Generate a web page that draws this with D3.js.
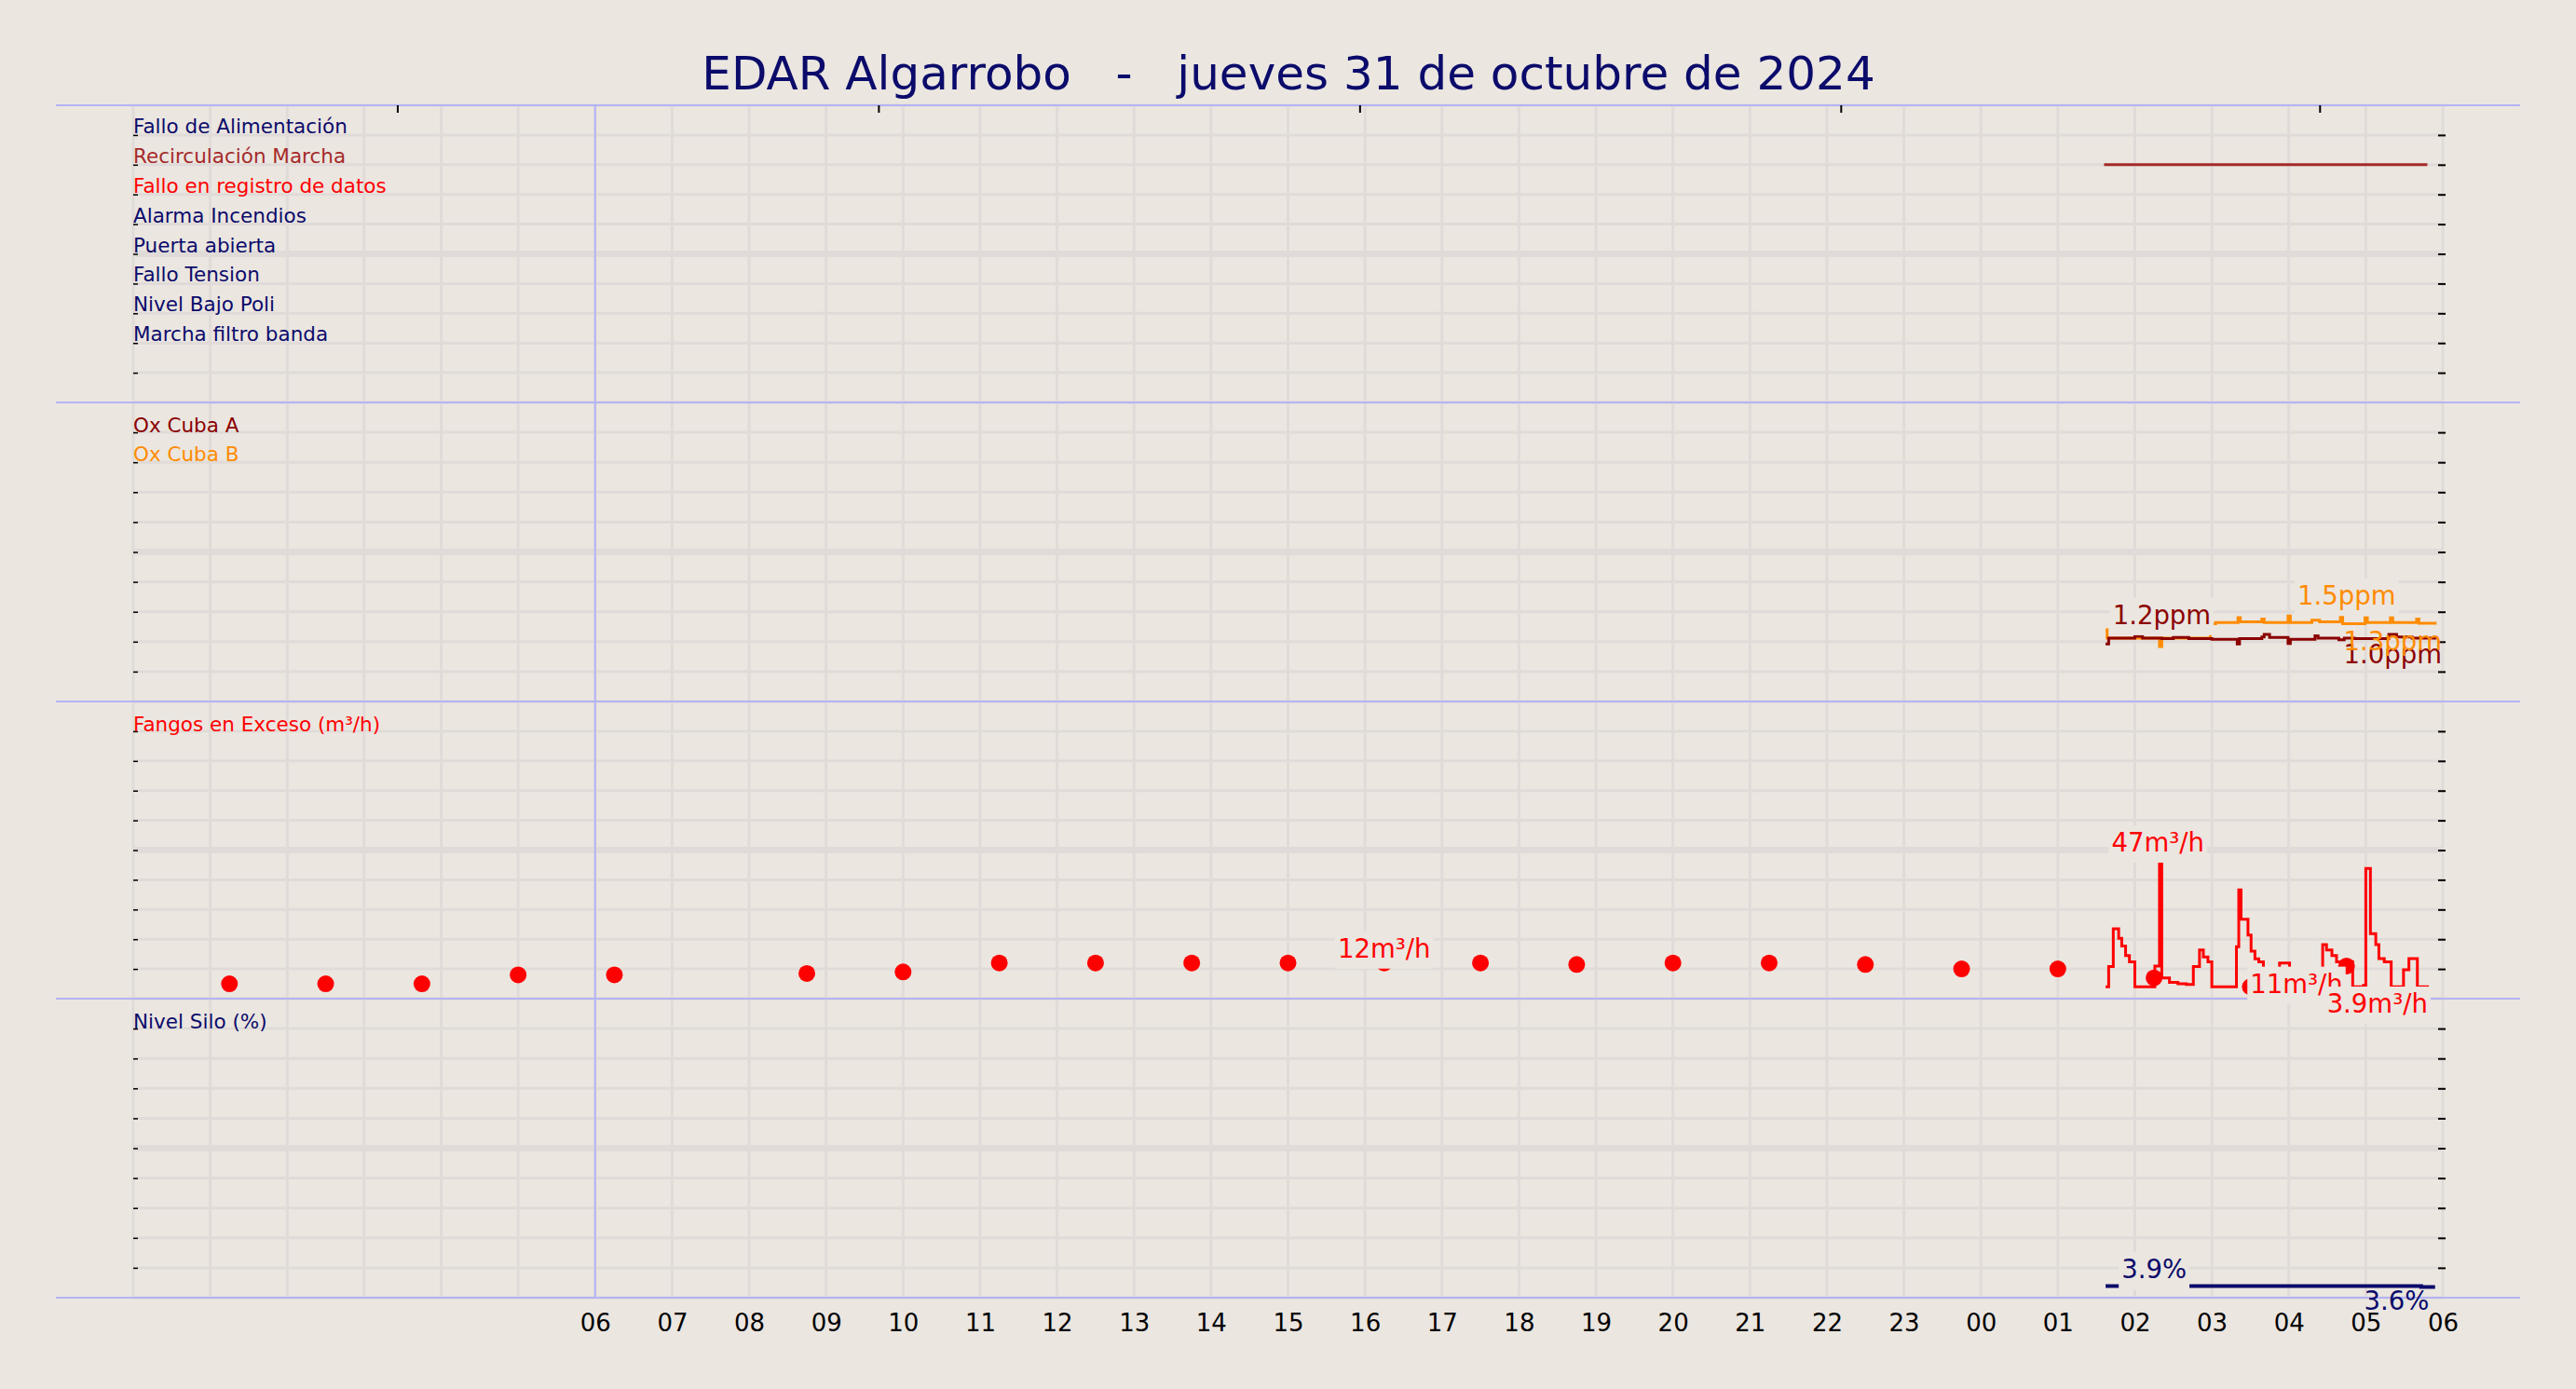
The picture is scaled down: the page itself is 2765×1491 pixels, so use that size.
<!DOCTYPE html>
<html><head><meta charset="utf-8">
<script src="https://cdn.jsdelivr.net/npm/d3@7"></script>
<style>body{margin:0;background:#ebe6e0}svg{display:block}text{font-family:"DejaVu Sans",sans-serif}</style>
</head><body><svg id="c" width="2765" height="1491"></svg>
<script>
const hourLabels=["06","07","08","09","10","11","12","13","14","15","16","17","18","19","20","21","22","23","00","01","02","03","04","05","06"];
const boolLabels=["Fallo de Alimentación","Recirculación Marcha","Fallo en registro de datos","Alarma Incendios","Puerta abierta","Fallo Tension","Nivel Bajo Poli","Marcha filtro banda"];
const boolColors=["#0b0b6b","#a52a2a","#ff0000","#0b0b6b","#0b0b6b","#0b0b6b","#0b0b6b","#0b0b6b"];
const recircSeg=[25.6,29.8];
const oxA=[[25.62,0.96],[25.66,1.06],[26.0,1.09],[26.1,1.06],[26.35,1.05],[26.5,1.07],[26.7,1.05],[27.0,1.04],[27.33,0.96],[27.36,1.05],[27.65,1.08],[27.68,1.12],[27.75,1.07],[27.99,0.97],[28.02,1.04],[28.34,1.1],[28.38,1.06],[28.65,1.03],[28.72,1.06],[28.85,1.05],[29.3,1.12],[29.4,1.08],[29.6,1.06],[29.92,1.06]];
const oxB=[[25.62,1.2],[25.64,1.06],[26.32,0.92],[26.35,1.06],[26.98,1.3],[27.05,1.32],[27.34,1.4],[27.37,1.33],[27.65,1.38],[27.68,1.32],[27.99,1.43],[28.02,1.32],[28.3,1.36],[28.4,1.33],[28.67,1.41],[28.7,1.3],[28.99,1.4],[29.02,1.32],[29.32,1.4],[29.35,1.32],[29.66,1.38],[29.69,1.31],[29.92,1.31]];
const fangosLine=[[25.62,4],[25.66,10.8],[25.72,23.5],[25.79,20.3],[25.83,17.7],[25.88,14.5],[25.93,12.4],[26.0,4],[26.26,11],[26.32,47],[26.35,7],[26.45,5.5],[26.56,5],[26.67,4.8],[26.76,10.8],[26.84,16.4],[26.89,14],[26.95,12.4],[27.0,4],[27.32,17.5],[27.35,36.6],[27.38,26.7],[27.47,21.4],[27.51,16],[27.56,13.4],[27.61,12.4],[27.67,4],[27.88,12],[28.01,4],[28.44,18.2],[28.49,16.4],[28.56,14.5],[28.62,12.4],[28.83,4],[28.97,4.5],[29.0,43.8],[29.06,21.9],[29.13,18.2],[29.17,13.5],[29.24,12.4],[29.33,4],[29.49,9.7],[29.56,13.5],[29.67,4],[29.82,4]];
const fangosDotsT=[1.25,2.5,3.75,5,6.25,8.75,10,11.25,12.5,13.75,15,16.25,17.5,18.75,20,21.25,22.5,23.75,25,26.25,27.5,28.75];
const fangosDotsV=[5,5,5,8,8,8.5,9,12,12,12,12,12,12,11.5,12,12,11.5,10,10,7,4,11];
const siloLine=[[25.62,3.9],[29.7,3.9],[29.72,3.6],[29.9,3.6]];

const svg=d3.select("#c");
const W=2765,L=143,R=2622;
const tops=[113,432,753,1072,1393];
const x=d3.scaleLinear().domain([0,30]).range([L,R]);
const bg="#ebe6e0",grid="#e0dbd8",sep="#b4b4f5";
svg.append("rect").attr("width",W).attr("height",1491).attr("fill",bg);
svg.append("text").attr("x",1383).attr("y",96).attr("text-anchor","middle").attr("font-size",50).attr("fill","#0b0b6b")
  .attr("xml:space","preserve").text("EDAR Algarrobo   -   jueves 31 de octubre de 2024");

const ys=[];
for(let p=0;p<4;p++){
  const t0=tops[p],t1=tops[p+1],g=svg.append("g");
  const dom=[[0,10],[0,5],[0,100],[0,100]][p];
  const y=d3.scaleLinear().domain(dom).range([t1,t0]);ys.push(y);
  const div=d3.range(11).map(i=>dom[0]+(dom[1]-dom[0])*i/10);
  g.selectAll(".h").data(div).join("line").attr("x1",L).attr("x2",R).attr("y1",d=>y(d)).attr("y2",d=>y(d))
    .attr("stroke",grid).attr("stroke-width",(d,i)=>i==5?7:3);
  g.selectAll(".v").data(d3.range(0,31)).join("line").attr("x1",d=>x(d)).attr("x2",d=>x(d)).attr("y1",t0).attr("y2",t1)
    .attr("stroke",grid).attr("stroke-width",3);
  g.append("g").attr("transform",`translate(${R},0)`).call(d3.axisRight(y).tickValues(div.slice(1,10)).tickSize(5).tickFormat(""))
    .call(a=>a.select(".domain").remove()).call(a=>a.selectAll("line").attr("stroke","#000").attr("stroke-width",2).attr("transform","translate(-5,0)").attr("x2",8));
  g.append("g").attr("transform",`translate(${L},0)`).call(d3.axisRight(y).tickValues(div.slice(1,10)).tickSize(5).tickFormat(""))
    .call(a=>a.select(".domain").remove()).call(a=>a.selectAll("line").attr("stroke","#000").attr("stroke-width",1.5));
}
tops.forEach(t=>svg.append("line").attr("x1",60).attr("x2",2705).attr("y1",t).attr("y2",t).attr("stroke",sep).attr("stroke-width",2));
svg.append("line").attr("x1",x(6)).attr("x2",x(6)).attr("y1",tops[0]).attr("y2",tops[4]).attr("stroke",sep).attr("stroke-width",2);
svg.append("g").attr("transform",`translate(0,${tops[0]})`).call(d3.axisBottom(x).tickValues([3.43,9.68,15.93,22.18,28.4]).tickSize(8).tickFormat(""))
  .call(a=>a.select(".domain").remove()).call(a=>a.selectAll("line").attr("stroke","#000").attr("stroke-width",2));
svg.append("g").attr("transform",`translate(0,${tops[4]})`).call(d3.axisBottom(x).tickValues(d3.range(6,31)).tickSize(0).tickPadding(18).tickFormat((d,i)=>hourLabels[i]))
  .call(a=>a.select(".domain").remove()).call(a=>a.selectAll("text").attr("font-size",26).attr("fill","#000").attr("font-family","DejaVu Sans"));

function label(txt,px,py,col,size,bgBox,anchor){
  const g=svg.append("g");
  const t=g.append("text").attr("x",px).attr("y",py).attr("fill",col).attr("font-size",size).attr("text-anchor",anchor||"middle").attr("dominant-baseline","middle").text(txt);
  if(bgBox){const b=t.node().getBBox();g.insert("rect","text").attr("x",b.x-3).attr("y",b.y-2).attr("width",b.width+6).attr("height",b.height+8).attr("fill",bg);}
}
const rowH=(tops[1]-tops[0])/10;
boolLabels.forEach((s,i)=>label(s,L,tops[0]+(i+0.75)*rowH,boolColors[i],21.5,false,"start"));
svg.append("line").attr("x1",x(recircSeg[0])).attr("x2",x(recircSeg[1])).attr("y1",ys[0](8)).attr("y2",ys[0](8)).attr("stroke","#a52a2a").attr("stroke-width",3);
label("Ox Cuba A",L,tops[1]+0.8*rowH,"#8b0000",21.5,false,"start");
label("Ox Cuba B",L,tops[1]+1.8*rowH,"#ff8c00",21.5,false,"start");
const step=(y)=>d3.line().x(d=>x(d[0])).y(d=>y(d[1])).curve(d3.curveStepAfter);
svg.append("path").datum(oxB).attr("d",step(ys[1])).attr("fill","none").attr("stroke","#ff8c00").attr("stroke-width",3);
svg.append("path").datum(oxA).attr("d",step(ys[1])).attr("fill","none").attr("stroke","#8b0000").attr("stroke-width",3);
label("1.2ppm",x(26.35),ys[1](1.42),"#8b0000",27.5,true);
label("1.5ppm",x(28.75),ys[1](1.74),"#ff8c00",27.5,true);
label("1.0ppm",x(29.35),ys[1](0.76),"#8b0000",27.5,false);
label("1.3ppm",x(29.35),ys[1](0.98),"#ff8c00",27.5,false);
label("Fangos en Exceso (m³/h)",L,tops[2]+0.8*rowH,"#ff0000",21.5,false,"start");
svg.append("path").datum(fangosLine).attr("d",step(ys[2])).attr("fill","none").attr("stroke","#ff0000").attr("stroke-width",3);
svg.selectAll(".dot").data(fangosDotsT).join("circle").attr("cx",d=>x(d)).attr("cy",(d,i)=>ys[2](fangosDotsV[i])).attr("r",9).attr("fill","#ff0000");
label("12m³/h",x(16.25),ys[2](12)-14,"#ff0000",27.5,true);
label("47m³/h",x(26.3),ys[2](47)-16,"#ff0000",27.5,true);
label("11m³/h",x(28.1),ys[2](4.5),"#ff0000",27.5,true);
label("3.9m³/h",x(29.15),ys[2](-2.2),"#ff0000",27.5,true);
label("Nivel Silo (%)",L,tops[3]+0.8*rowH,"#0b0b6b",21.5,false,"start");
svg.append("path").datum(siloLine).attr("d",step(ys[3])).attr("fill","none").attr("stroke","#0b0b6b").attr("stroke-width",4);
label("3.9%",x(26.25),ys[3](3.9)-16,"#0b0b6b",27.5,true);
label("3.6%",x(29.4),ys[3](-1.5),"#0b0b6b",27.5,false);
</script></body></html>
